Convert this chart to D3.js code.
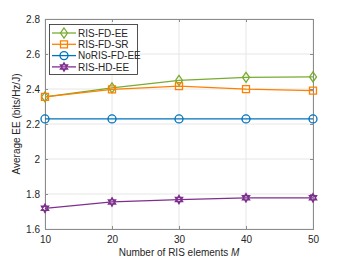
<!DOCTYPE html>
<html>
<head>
<meta charset="utf-8">
<script src="https://cdn.jsdelivr.net/npm/d3@7"></script>
<style>
  body { margin: 0; background: #fff; }
  text { font-family: "Liberation Sans", Arial, sans-serif; fill: #262626; }
</style>
</head>
<body>
<div id="chart"></div>
<script>
// data
var elements = [10, 20, 30, 40, 50];
var risFdEE = [2.355, 2.406, 2.449, 2.467, 2.469];
var risFdSR = [2.355, 2.398, 2.416, 2.399, 2.391];
var noRisFdEE = [2.229, 2.229, 2.229, 2.229, 2.229];
var risHdEE = [1.718, 1.755, 1.768, 1.778, 1.778];
var xTicks = [10, 20, 30, 40, 50];
var yTicks = [1.6, 1.8, 2.0, 2.2, 2.4, 2.6, 2.8];

var series = [
    {name: "RIS-FD-EE", values: risFdEE, color: "#77AC30", marker: "diamond"},
    {name: "RIS-FD-SR", values: risFdSR, color: "#FF8000", marker: "square"},
    {name: "NoRIS-FD-EE", values: noRisFdEE, color: "#0072BD", marker: "circle"},
    {name: "RIS-HD-EE", values: risHdEE, color: "#7E2F8E", marker: "hexagram"}
];

var svgWidth = 346, svgHeight = 260;
var margin = {top: 19, right: 33, bottom: 31, left: 45};
var width = svgWidth - margin.left - margin.right;
var height = svgHeight - margin.top - margin.bottom;

var svg = d3.select("#chart").append("svg")
    .attr("width", svgWidth)
    .attr("height", svgHeight);

var g = svg.append("g")
    .attr("transform", `translate(${margin.left}, ${margin.top})`);

var x = d3.scaleLinear().domain([10, 50]).range([0, width]);
var y = d3.scaleLinear().domain([1.6, 2.8]).range([height, 0]);

// grid
g.append("g").selectAll("line").data(xTicks).enter().append("line")
    .attr("x1", d => x(d)).attr("x2", d => x(d))
    .attr("y1", 0).attr("y2", height)
    .attr("stroke", "#e6e6e6").attr("stroke-width", 1);
g.append("g").selectAll("line").data(yTicks).enter().append("line")
    .attr("y1", d => y(d)).attr("y2", d => y(d))
    .attr("x1", 0).attr("x2", width)
    .attr("stroke", "#e6e6e6").attr("stroke-width", 1);

// axes (ticks pointing in)
var xAxis = d3.axisBottom(x).tickValues(xTicks).tickSize(-3).tickPadding(7);
var yAxis = d3.axisLeft(y).tickValues(yTicks).tickSize(-3).tickPadding(5)
    .tickFormat(d => d === 2 ? "2" : d3.format(".1f")(d));

var gx = g.append("g").attr("transform", `translate(0, ${height})`).call(xAxis);
var gy = g.append("g").call(yAxis);
[gx, gy].forEach(a => {
    a.select(".domain").remove();
    a.selectAll("line").attr("stroke", "#8c8c8c");
    a.selectAll("text").style("font-size", "10px").attr("fill", "#262626");
});
g.append("g").attr("transform", `translate(0, 0)`)
    .call(d3.axisTop(x).tickValues(xTicks).tickSize(-3).tickFormat(""))
    .call(a => { a.select(".domain").remove(); a.selectAll("line").attr("stroke", "#8c8c8c"); });
g.append("g").attr("transform", `translate(${width}, 0)`)
    .call(d3.axisRight(y).tickValues(yTicks).tickSize(-3).tickFormat(""))
    .call(a => { a.select(".domain").remove(); a.selectAll("line").attr("stroke", "#8c8c8c"); });

// box
g.append("rect")
    .attr("x", 0.5).attr("y", 0.5)
    .attr("width", width).attr("height", height)
    .attr("fill", "none").attr("stroke", "#8c8c8c").attr("stroke-width", 1);

function markerPath(type) {
    if (type === "diamond") return "M0,-5L3.5,0L0,5L-3.5,0Z";
    if (type === "square") return "M-3.5,-3.5H3.5V3.5H-3.5Z";
    if (type === "circle") return "M4,0A4,4 0 1,1 -4,0A4,4 0 1,1 4,0Z";
    // hexagram: two triangles
    var r = 4.2, a = [], b = [];
    for (var i = 0; i < 3; i++) {
        var t1 = -Math.PI / 2 + i * 2 * Math.PI / 3;
        var t2 = Math.PI / 2 + i * 2 * Math.PI / 3;
        a.push([r * Math.cos(t1), r * Math.sin(t1)]);
        b.push([r * Math.cos(t2), r * Math.sin(t2)]);
    }
    return "M" + a.join("L") + "Z" + "M" + b.join("L") + "Z";
}

var line = d3.line()
    .x((d, i) => x(elements[i]))
    .y(d => y(d));

series.forEach(s => {
    g.append("path")
        .datum(s.values)
        .attr("d", line)
        .attr("fill", "none")
        .attr("stroke", s.color)
        .attr("stroke-width", 1.3);
    g.selectAll(null).data(s.values).enter().append("path")
        .attr("transform", (d, i) => `translate(${x(elements[i])}, ${y(d)})`)
        .attr("d", markerPath(s.marker))
        .attr("fill", "none")
        .attr("stroke", s.color)
        .attr("stroke-width", 1.3);
});

// legend
var legend = g.append("g").attr("transform", "translate(4, 5)");
legend.append("rect")
    .attr("x", 0.5).attr("y", 0.5)
    .attr("width", 88).attr("height", 50)
    .attr("fill", "#fff").attr("stroke", "#262626").attr("stroke-width", 0.8);
series.forEach((s, i) => {
    var ly = 9 + i * 11.3;
    legend.append("line")
        .attr("x1", 3).attr("x2", 27).attr("y1", ly).attr("y2", ly)
        .attr("stroke", s.color).attr("stroke-width", 1.3);
    legend.append("path")
        .attr("transform", `translate(15, ${ly})`)
        .attr("d", markerPath(s.marker))
        .attr("fill", "none").attr("stroke", s.color).attr("stroke-width", 1.3);
    legend.append("text")
        .attr("x", 29).attr("y", ly + 3.6)
        .style("font-size", "10px")
        .text(s.name);
});

// axis labels
var xl = svg.append("text")
    .attr("x", margin.left + width / 2)
    .attr("y", 256)
    .attr("text-anchor", "middle")
    .style("font-size", "10px");
xl.append("tspan").text("Number of RIS elements ");
xl.append("tspan").style("font-style", "italic").text("M");

svg.append("text")
    .attr("transform", `translate(20, ${margin.top + height / 2}) rotate(-90)`)
    .attr("text-anchor", "middle")
    .style("font-size", "10px")
    .text("Average EE (bits/Hz/J)");
</script>
</body>
</html>
